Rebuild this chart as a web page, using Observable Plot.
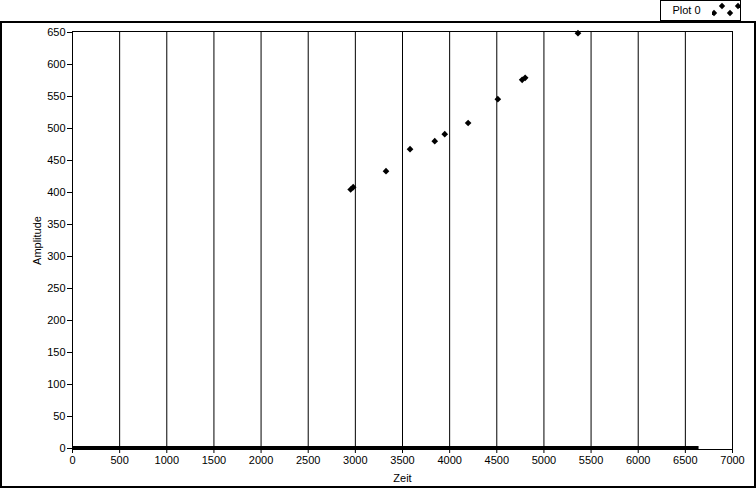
<!DOCTYPE html>
<html>
<head>
<meta charset="utf-8">
<script src="https://cdn.jsdelivr.net/npm/d3@7"></script>
<script src="https://cdn.jsdelivr.net/npm/@observablehq/plot@0.6"></script>
<style>
  body { margin: 0; background: #fff; }
  #wrap { position: relative; width: 756px; height: 488px; overflow: hidden; background: #fff;
          font-family: "Liberation Sans", Arial, sans-serif; font-size: 11px; color: #000; }
  #chart { position: absolute; left: 0; top: 0; }
  #frame { position: absolute; left: 0; top: 21px; width: 752px; height: 463px;
           border: 2px solid #000; pointer-events: none; }
  #legLab { position: absolute; left: 660px; top: 0; width: 51px; height: 19px;
            border: 1px solid #000; text-align: center; line-height: 19px; font-size: 11px; background: #fff; }
  #legBox { position: absolute; left: 712px; top: 0; width: 28px; height: 19px;
            border: 1px solid #000; border-left: none; overflow: hidden; background: #fff; }
  #legBox svg { display: block; }
</style>
</head>
<body>
<div id="wrap">
  <div id="chart"></div>
  <div id="frame"></div>
  <div id="legLab"></div>
  <div id="legBox"><svg id="legIcon" width="28" height="19"></svg></div>
</div>
<script>
// Series "Plot 0"
const zeit = [2950, 2977, 3325, 3580, 3842, 3948, 4196, 4511, 4769, 4801, 5361];
const amplitude = [404.7, 408.3, 433.3, 467.7, 480.2, 491.1, 508.6, 545.8, 576.1, 579.2, 648.9];
// Dense run of zero-amplitude samples along the bottom
const zeroZeit = [0, 6640];
const zeroAmp = [0, 0];
// Ticks
const xTicks = [0, 500, 1000, 1500, 2000, 2500, 3000, 3500, 4000, 4500, 5000, 5500, 6000, 6500, 7000];
const yTicks = [0, 50, 100, 150, 200, 250, 300, 350, 400, 450, 500, 550, 600, 650];
const seriesName = "Plot 0";
const xLabel = "Zeit";
const yLabel = "Amplitude";

const pts = zeit.map((x, i) => ({x, y: amplitude[i]}));
const zeros = zeroZeit.map((x, i) => ({x, y: zeroAmp[i]}));

const chart = Plot.plot({
  width: 756,
  height: 488,
  marginLeft: 72,
  marginRight: 24,
  marginTop: 32,
  marginBottom: 40,
  style: { background: "transparent", color: "#000", fontFamily: "'Liberation Sans', Arial, sans-serif", fontSize: "11px" },
  x: { domain: [0, 7000] },
  y: { domain: [0, 650] },
  marks: [
    Plot.ruleX(xTicks.filter(d => d > 0 && d < 7000), { stroke: "#000", strokeWidth: 1, insetTop: -1, insetBottom: -1 }),
    Plot.frame({ stroke: "#000", strokeWidth: 1, insetTop: -1, insetBottom: -1 }),
    Plot.line(zeros, { x: "x", y: "y", stroke: "#000", strokeWidth: 4, strokeLinecap: "butt", dy: -0.5 }),
    Plot.dot(pts, { x: "x", y: "y", symbol: "diamond2", r: 3, fill: "#000", stroke: "none" }),
    Plot.axisX({ ticks: xTicks, tickSize: 5, tickPadding: 3, tickFormat: d => String(d),
                 label: xLabel, labelAnchor: "center", labelArrow: "none", labelOffset: 33 }),
    Plot.axisY({ ticks: yTicks, tickSize: 5, tickPadding: 2, tickFormat: d => String(d),
                 label: yLabel, labelAnchor: "center", labelArrow: "none", labelOffset: 39 })
  ]
});
document.getElementById("chart").appendChild(chart);

// Legend
document.getElementById("legLab").textContent = seriesName;
const icon = d3.select("#legIcon");
[[2, 12], [10, 5], [18, 12], [26, 5]].forEach(([cx, cy]) => {
  icon.append("path")
    .attr("d", d3.symbol(d3.symbolDiamond2, 26)())
    .attr("transform", `translate(${cx},${cy})`)
    .attr("fill", "#000");
});
</script>
</body>
</html>
